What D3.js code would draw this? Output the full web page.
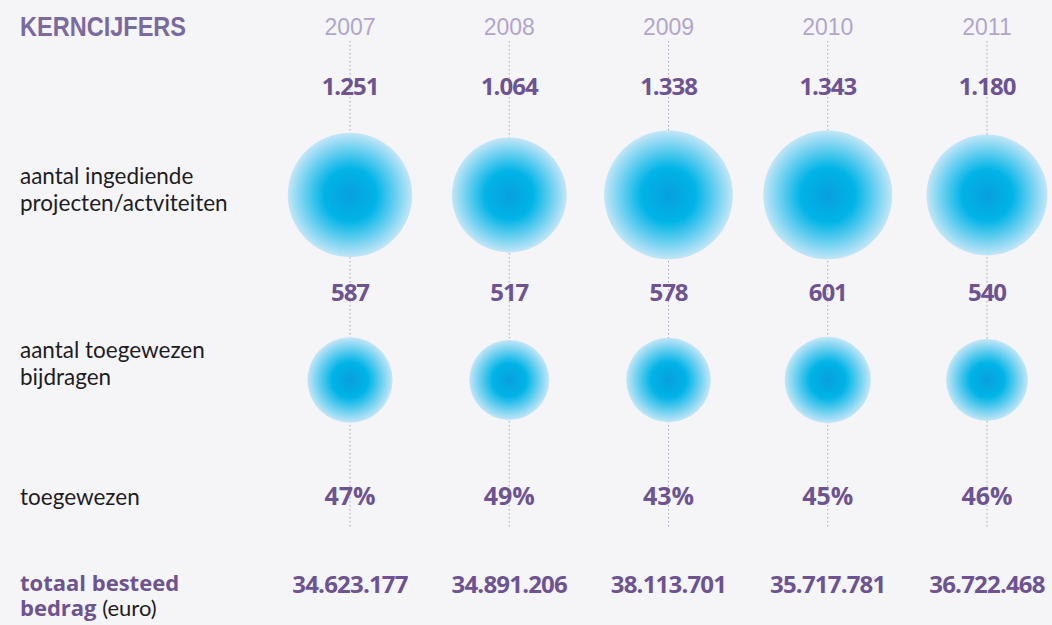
<!DOCTYPE html>
<html>
<head>
<meta charset="utf-8">
<script src="https://cdn.jsdelivr.net/npm/d3@7"></script>
<style>
  body { margin: 0; background: #f5f5f8; }
  svg { display: block; }
</style>
</head>
<body>
<script>
const years = ["2007", "2008", "2009", "2010", "2011"];
const ingediend = [1251, 1064, 1338, 1343, 1180];
const toegewezen = [587, 517, 578, 601, 540];
const percentage = [47, 49, 43, 45, 46];
const besteed = [34623177, 34891206, 38113701, 35717781, 36722468];

const W = 1052, H = 625;
const purple = "#6d5390", lightPurple = "#b2a5cb";

const nl = d3.formatLocale({ decimal: ",", thousands: ".", grouping: [3], currency: ["€", ""] });
const fmt = nl.format(",d");

const svg = d3.select("body").append("svg")
  .attr("width", W).attr("height", H);

svg.append("rect").attr("width", W).attr("height", H).attr("fill", "#f5f5f8");

const defs = svg.append("defs");
const grad = defs.append("radialGradient").attr("id", "bubble");
grad.append("stop").attr("offset", "0%").attr("stop-color", "#089fdf");
grad.append("stop").attr("offset", "42%").attr("stop-color", "#00b4e7");
grad.append("stop").attr("offset", "100%").attr("stop-color", "#c3e6f7");

const x = d3.scalePoint().domain(years).range([350, 987]);
const r = d3.scaleSqrt().domain([0, 1343]).range([0, 64.5]);

// title
svg.append("text")
  .attr("x", 20).attr("y", 36)
  .attr("font-family", "Liberation Sans Narrow, Arial Narrow, sans-serif")
  .attr("font-weight", 700).attr("font-size", 28)
  .attr("textLength", 166).attr("lengthAdjust", "spacingAndGlyphs")
  .attr("fill", "#7a6a9e")
  .text("KERNCIJFERS");

// years
svg.selectAll(".year").data(years).enter().append("text")
  .attr("x", d => x(d)).attr("y", 35)
  .attr("text-anchor", "middle")
  .attr("font-family", "Liberation Sans Narrow, sans-serif")
  .attr("font-size", 23).attr("fill", lightPurple)
  .text(d => d);

// dotted guides
svg.selectAll(".guide").data(years).enter().append("line")
  .attr("x1", d => x(d)).attr("x2", d => x(d))
  .attr("y1", 41).attr("y2", 528)
  .attr("stroke", "#a9a3c4").attr("stroke-width", 1)
  .attr("stroke-dasharray", "1.5,2.5");

// bubbles
const rows = [
  { values: ingediend, cy: 195, labelY: 95 },
  { values: toegewezen, cy: 380, labelY: 301 }
];
rows.forEach(row => {
  svg.append("g").selectAll("circle").data(row.values).enter().append("circle")
    .attr("cx", (d, i) => x(years[i])).attr("cy", row.cy)
    .attr("r", d => r(d))
    .attr("fill", "url(#bubble)");
  svg.append("g").selectAll("text").data(row.values).enter().append("text")
    .attr("x", (d, i) => x(years[i])).attr("y", row.labelY)
    .attr("text-anchor", "middle")
    .attr("font-family", "Open Sans, sans-serif").attr("font-weight", 700)
    .attr("font-size", 24).attr("letter-spacing", -1)
    .attr("fill", purple)
    .text(d => fmt(d));
});

svg.append("g").selectAll("text").data(percentage).enter().append("text")
  .attr("x", (d, i) => x(years[i])).attr("y", 505)
  .attr("text-anchor", "middle")
  .attr("font-family", "Open Sans, sans-serif").attr("font-weight", 700)
  .attr("font-size", 25).attr("letter-spacing", 0)
  .attr("fill", purple)
  .text(d => d + "%");

svg.append("g").selectAll("text").data(besteed).enter().append("text")
  .attr("x", (d, i) => x(years[i])).attr("y", 593)
  .attr("text-anchor", "middle")
  .attr("font-family", "Open Sans, sans-serif").attr("font-weight", 700)
  .attr("font-size", 24).attr("letter-spacing", -0.8)
  .attr("fill", purple)
  .text(d => fmt(d));

// row labels
const labelFont = "Lato, sans-serif";
const labels = [
  { lines: ["aantal ingediende", "projecten/actviteiten"], y: 184 },
  { lines: ["aantal toegewezen", "bijdragen"], y: 358 },
  { lines: ["toegewezen"], y: 505 }
];
labels.forEach(l => {
  const t = svg.append("text").attr("x", 20).attr("y", l.y)
    .attr("font-family", labelFont).attr("font-size", 22.5).attr("fill", "#1e1c1f");
  l.lines.forEach((s, i) => t.append("tspan").attr("x", 20).attr("dy", i ? 27 : 0).text(s));
});

const boldFont = "Open Sans, sans-serif";
const tot = svg.append("text").attr("x", 20).attr("y", 591)
  .attr("font-family", labelFont).attr("font-size", 22);
tot.append("tspan").attr("font-family", boldFont).attr("font-size", 22)
  .attr("font-weight", 700).attr("fill", purple).text("totaal besteed");
const l2 = tot.append("tspan").attr("x", 20).attr("dy", 25);
l2.append("tspan").attr("font-family", boldFont).attr("font-size", 22)
  .attr("font-weight", 700).attr("fill", purple).text("bedrag ");
l2.append("tspan").attr("fill", "#1e1c1f").text("(euro)");
</script>
</body>
</html>
